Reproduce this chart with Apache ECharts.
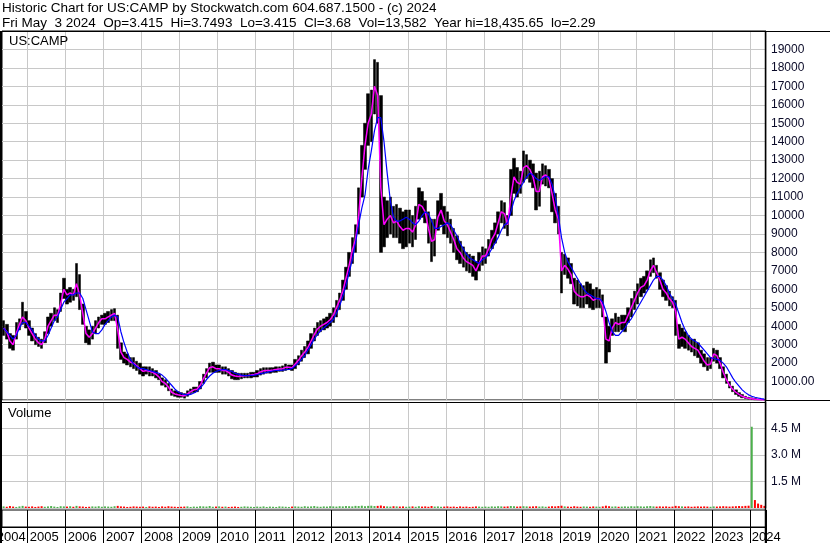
<!DOCTYPE html>
<html><head><meta charset="utf-8">
<script src="https://cdn.jsdelivr.net/npm/echarts@6/dist/echarts.min.js"></script>
<style>html,body{margin:0;padding:0;background:#fff}#c{width:830px;height:543px}</style>
</head><body><div id="c"></div>
<script>
const titleLine1 = 'Historic Chart for US:CAMP by Stockwatch.com 604.687.1500 - (c) 2024';
const titleLine2 = 'Fri May  3 2024  Op=3.415  Hi=3.7493  Lo=3.415  Cl=3.68  Vol=13,582  Year hi=18,435.65  lo=2.29';
const symbolLabel = 'US:CAMP';
const volumeLabel = 'Volume';

// monthly categories May 2004 .. May 2024
const months = [];
for (let y = 2004; y <= 2024; y++) {
  for (let m = 1; m <= 12; m++) {
    if (y === 2004 && m < 5) continue;
    if (y === 2024 && m > 5) break;
    months.push(y + '-' + (m < 10 ? '0' + m : m));
  }
}
const yearLabels = ['2004','2005','2006','2007','2008','2009','2010','2011','2012','2013','2014','2015','2016','2017','2018','2019','2020','2021','2022','2023','2024'];
const priceTickLabels = ['', '1000.00', '2000', '3000', '4000', '5000', '6000', '7000', '8000', '9000', '10000', '11000', '12000', '13000', '14000', '15000', '16000', '17000', '18000', '19000', ''];
const volumeTickLabels = ['', '1.5 M', '3.0 M', '4.5 M', ''];

// monthly high
const high = [
  4300,4100,3600,3500,4200,4400,5300,4800,
  4300,3900,3600,3400,3300,3700,4500,4700,5000,4900,5800,6600,
  6000,6100,6000,7400,6800,5200,4000,3800,4000,4300,4500,4600,
  4700,4800,4900,4950,4600,3100,2600,2500,2300,2300,2100,2000,
  1800,1800,1800,1700,1600,1400,1200,1100,900,600,500,450,
  400,350,500,600,700,700,1000,1400,1700,2000,2050,1900,
  1900,1800,1800,1700,1600,1500,1450,1450,1450,1450,1500,1500,
  1600,1700,1750,1750,1750,1750,1800,1800,1850,1950,1900,1900,
  2200,2400,2700,2900,3200,3600,3900,4200,4300,4400,4500,4700,
  5000,5400,5800,6500,7200,8000,8800,9500,11500,13800,15000,16600,
  16800,18450,18300,16500,11000,10800,11000,10500,10600,10400,10200,10300,
  10300,10000,10500,11500,11300,10800,10200,9800,9800,10800,11200,10500,
  10200,9800,9300,8900,8600,8300,8000,7900,7800,7500,8000,8300,
  8200,8700,9200,9600,10200,10800,10700,10000,12500,13100,12600,12400,
  13500,13300,13000,12800,12300,12400,12800,12700,12500,12000,11200,10500,
  8000,7900,7700,7400,6600,6500,6300,6200,6400,6300,6000,6100,
  6000,5700,4500,4000,4400,4700,4500,4600,4600,5000,5500,5900,
  6300,6600,6700,7000,7600,7700,7300,6900,6500,6200,5900,5600,
  5400,4100,3900,3700,3500,3300,3300,3100,2700,2500,2300,2300,
  2800,2700,2300,1800,1400,1000,750,550,400,300,200,150,
  120,80,50,30,10
];
// monthly low
const low = [
  3500,3300,2800,2700,3300,3800,4100,3900,
  3500,3200,3000,2900,2800,3100,3600,4000,4300,4200,4800,5500,
  5200,5300,5400,5600,4900,4100,3100,3000,3300,3600,3900,4100,
  4100,4200,4300,4300,2800,2200,2000,1900,1800,1700,1600,1400,
  1300,1400,1300,1300,1200,1100,800,700,500,250,200,150,
  150,100,200,350,400,450,600,900,1200,1500,1500,1500,
  1500,1400,1400,1300,1150,1100,1100,1150,1200,1200,1200,1250,
  1250,1350,1400,1450,1450,1500,1500,1550,1550,1600,1650,1600,
  1700,1900,2100,2300,2500,2800,3200,3500,3700,3800,3900,4000,
  4200,4500,4900,5400,6000,6700,7400,8000,9000,11000,12500,13800,
  14000,15500,15000,8000,8300,8800,9000,8800,8800,8500,8200,8300,
  8500,8300,8700,9800,9900,9600,8500,7500,7800,9200,9500,9000,
  8800,8500,8000,7600,7400,7200,7000,6900,6700,6500,7000,7300,
  7400,7800,8200,8500,9000,9600,9300,8900,10000,11200,11000,11200,
  11800,12000,11800,11500,10300,10500,11700,11600,11500,10200,9600,9000,
  5800,6800,6600,6300,5200,5100,5000,5000,5200,5000,4900,5000,
  5000,4500,2000,2600,3500,3700,3700,3800,3700,4200,4500,4900,
  5200,5600,5800,6000,6700,6900,6600,6000,5600,5400,5100,5000,
  3500,2800,2900,2800,2700,2600,2400,2300,2000,1800,1600,1700,
  2100,2000,1700,1200,900,650,450,300,200,120,80,50,
  30,10,5,3,3
];
// short moving average (magenta)
const maShort = [
  3900,3700,3200,3000,3600,4100,4500,4300,
  3900,3600,3300,3100,3000,3300,4000,4300,4600,4600,5200,6000,
  5700,5800,5700,6300,5700,4700,3600,3400,3600,3900,4200,4400,
  4400,4500,4600,4700,3800,2600,2300,2200,2050,2000,1850,1700,
  1550,1600,1550,1500,1400,1250,1000,900,700,420,330,280,
  250,230,330,450,550,580,800,1150,1450,1750,1800,1700,
  1700,1600,1600,1500,1350,1300,1280,1300,1320,1330,1350,1380,
  1420,1520,1580,1600,1600,1620,1650,1680,1700,1770,1780,1750,
  1950,2150,2400,2600,2850,3200,3550,3850,4000,4100,4200,4350,
  4600,5000,5400,5900,6600,7300,8100,8700,10000,12000,13800,15000,
  15500,17000,16500,11500,9500,9800,10000,9600,9700,9400,9200,9300,
  9300,9100,9500,10600,10500,10200,9300,8600,8700,9900,10300,9700,
  9500,9100,8700,8200,8000,7700,7500,7400,7300,7000,7400,7800,
  7800,8200,8700,9000,9600,10200,10100,9500,11000,12100,11800,11700,
  12600,12700,12500,12100,11300,11300,12100,12200,12000,11200,10300,9800,
  7000,7300,7100,6800,5900,5700,5600,5600,5700,5600,5400,5500,
  5500,5100,3300,3200,3900,4200,4100,4200,4200,4600,5000,5400,
  5800,6100,6200,6500,7000,7300,6900,6500,6000,5800,5500,5300,
  4800,3300,3400,3300,3100,2900,2800,2700,2400,2100,1900,1950,
  2500,2400,2000,1500,1100,800,580,420,300,200,140,100,
  70,40,25,15,5
];
// long moving average (blue)
const maLong = [
  3900,3700,3500,3300,3500,3900,4200,4200,
  4000,3800,3500,3300,3200,3200,3500,3900,4300,4500,4900,5300,
  5500,5700,5700,5800,5800,5500,4900,4300,3700,3600,3600,3800,
  4100,4300,4500,4600,4500,3700,3100,2600,2200,1950,1800,1700,
  1700,1650,1600,1550,1500,1450,1350,1200,1000,800,600,450,
  350,300,280,300,380,480,650,850,1100,1300,1450,1550,
  1600,1650,1650,1600,1550,1450,1400,1350,1320,1320,1330,1350,
  1380,1420,1460,1500,1540,1570,1600,1610,1620,1640,1660,1700,
  1850,2000,2200,2400,2700,3000,3300,3550,3750,3900,4050,4200,
  4350,4700,5100,5600,6200,6900,7600,8500,9500,10400,11100,12500,
  13500,14600,15300,15300,14000,12300,10800,9900,9700,9700,9800,9900,
  9800,9600,9500,9700,10000,10200,10100,9700,9300,9300,9400,9500,
  9600,9500,9200,8900,8500,8200,7900,7700,7600,7500,7400,7600,
  7700,7900,8200,8500,8800,9200,9500,9600,10200,10800,11200,11500,
  11800,12100,12300,12200,12000,11900,12000,12100,12100,11700,11000,10000,
  8800,8000,7500,7200,6900,6600,6300,6000,5800,5700,5600,5500,
  5500,5300,4800,4200,3700,3500,3500,3700,3900,4200,4400,4700,
  5000,5300,5600,5900,6200,6500,6700,6700,6500,6200,5800,5500,
  5200,4700,4200,3800,3500,3300,3200,3100,2900,2700,2500,2300,
  2250,2200,2150,2000,1800,1500,1200,950,750,550,400,280,
  200,150,110,70,50
];
// monthly volume
const volume = [
  90000,70000,110000,80000,60000,90000,120000,80000,
  70000,90000,60000,80000,100000,70000,90000,110000,80000,60000,100000,90000,
  80000,100000,70000,120000,90000,80000,60000,70000,90000,80000,100000,70000,
  90000,80000,70000,100000,120000,90000,80000,60000,70000,90000,80000,70000,
  80000,60000,90000,70000,80000,60000,90000,70000,100000,80000,70000,60000,
  70000,80000,90000,60000,80000,70000,100000,90000,80000,110000,70000,80000,
  90000,70000,80000,60000,70000,80000,60000,70000,90000,80000,70000,60000,
  80000,70000,90000,60000,80000,70000,60000,90000,80000,70000,60000,80000,
  90000,80000,70000,100000,80000,90000,110000,80000,70000,90000,80000,100000,
  90000,80000,100000,90000,110000,100000,90000,120000,110000,130000,100000,120000,
  130000,110000,120000,140000,100000,90000,80000,100000,90000,80000,90000,70000,
  80000,90000,70000,100000,80000,90000,70000,110000,80000,90000,70000,80000,
  90000,70000,80000,60000,90000,70000,80000,60000,70000,90000,80000,70000,
  80000,70000,90000,80000,100000,90000,80000,90000,110000,100000,80000,90000,
  100000,90000,80000,90000,100000,80000,90000,70000,80000,100000,90000,110000,
  130000,90000,80000,70000,100000,80000,70000,90000,80000,70000,90000,80000,
  70000,90000,130000,100000,80000,90000,70000,80000,90000,80000,100000,90000,
  100000,90000,80000,100000,110000,90000,80000,90000,80000,90000,70000,80000,
  120000,100000,90000,80000,90000,70000,80000,90000,80000,90000,80000,70000,
  90000,80000,90000,100000,90000,80000,90000,100000,110000,100000,120000,130000,
  4600000,450000,250000,180000,120000
];

const green = '#4cb04c', red = '#ff0000';
const volData = volume.map((v, i) => ({
  value: v,
  itemStyle: { color: (i === 0 || maShort[i] >= maShort[i - 1] || v > 1000000) ? green : red }
}));

const FONT = "'Liberation Sans', Arial, sans-serif";
const isJan = (i, v) => String(v).slice(5) === '01';
const showYearLabel = (i, v) => String(v).slice(5) === '12' || i === months.length - 1;

const chart = echarts.init(document.getElementById('c'), null, { renderer: 'canvas' });
chart.setOption({
  animation: false,
  backgroundColor: '#ffffff',
  textStyle: { fontFamily: FONT },
  title: [
    { text: titleLine1 + '\n' + titleLine2, left: 2, top: 1, padding: 0,
      textStyle: { fontFamily: FONT, fontSize: 13.5, fontWeight: 'normal', color: '#000', lineHeight: 15 } },
    { text: symbolLabel, left: 9, top: 34, padding: 0,
      textStyle: { fontFamily: FONT, fontSize: 13, fontWeight: 'normal', color: '#000', lineHeight: 15 } },
    { text: volumeLabel, left: 8, top: 406, padding: 0,
      textStyle: { fontFamily: FONT, fontSize: 13, fontWeight: 'normal', color: '#000', lineHeight: 15 } }
  ],
  grid: [
    { left: 2, top: 31, width: 764, height: 369, show: true, borderColor: '#000', borderWidth: 1, backgroundColor: 'transparent', outerBoundsMode: 'none', containLabel: false },
    { left: 2, top: 402, width: 764, height: 106, show: false, outerBoundsMode: 'none', containLabel: false },
    { left: 2, top: 510, width: 764, height: 17, show: true, borderColor: '#000', borderWidth: 1, outerBoundsMode: 'none', containLabel: false }
  ],
  xAxis: [
    { type: 'category', gridIndex: 0, data: months, boundaryGap: true,
      axisLine: { show: false }, axisTick: { show: false }, axisLabel: { show: false },
      splitLine: { show: true, interval: isJan, lineStyle: { color: '#c8c8c8', width: 1 } } },
    { type: 'category', gridIndex: 1, data: months, boundaryGap: true,
      axisLine: { show: false }, axisTick: { show: false }, axisLabel: { show: false },
      splitLine: { show: true, interval: isJan, lineStyle: { color: '#c8c8c8', width: 1 } } },
    { type: 'category', gridIndex: 2, data: months, boundaryGap: true, position: 'bottom',
      axisLine: { show: true, lineStyle: { color: '#000', width: 1 } },
      axisTick: { show: true, interval: isJan, length: 16, lineStyle: { color: '#000', width: 1 } },
      splitLine: { show: true, interval: isJan, lineStyle: { color: '#000', width: 1 } },
      axisLabel: {
        show: true, interval: showYearLabel, align: 'right', margin: 2,
        fontFamily: FONT, fontSize: 13, color: '#000',
        formatter: function (value) {
          const y = yearLabels[Number(String(value).slice(0, 4)) - 2004];
          if (value === months[months.length - 1]) return '{l|' + y + '}';
          if (y === yearLabels[0]) return '{f|' + y + '}';
          return '{m|' + y + '}';
        },
        rich: {
          f: { width: 34, align: 'right', fontFamily: FONT, fontSize: 13, color: '#000', lineHeight: 16 },
          m: { width: 34, align: 'left', fontFamily: FONT, fontSize: 13, color: '#000', lineHeight: 16 },
          l: { width: 12.7, align: 'left', fontFamily: FONT, fontSize: 13, color: '#000', lineHeight: 16 }
        }
      } }
  ],
  yAxis: [
    { type: 'value', gridIndex: 0, position: 'right', min: 0, max: 20000, interval: 1000,
      axisLine: { show: false }, axisTick: { show: false },
      axisLabel: { show: true, margin: 5, align: 'left', fontFamily: FONT, fontSize: 12, color: '#0a0a28',
        showMaxLabel: false, showMinLabel: false,
        formatter: v => priceTickLabels[Math.round(v / 1000)] || '' },
      splitLine: { show: true, lineStyle: { color: '#c8c8c8', width: 1 } } },
    { type: 'value', gridIndex: 1, position: 'right', min: 0, max: 6000000, interval: 1500000,
      axisLine: { show: false }, axisTick: { show: false },
      axisLabel: { show: true, margin: 5, align: 'left', fontFamily: FONT, fontSize: 12, color: '#0a0a28',
        formatter: v => volumeTickLabels[Math.round(v / 1500000)] || '' },
      splitLine: { show: true, lineStyle: { color: '#c8c8c8', width: 1 } } },
    { type: 'value', gridIndex: 2, show: false, min: 0, max: 1,
      splitLine: { show: false } }
  ],
  series: [
    { type: 'candlestick', name: 'Price', xAxisIndex: 0, yAxisIndex: 0,
      data: high.map((h, i) => [low[i], h, low[i], h]),
      barWidth: 3,
      itemStyle: { color: '#000', color0: '#000', borderColor: '#000', borderColor0: '#000', borderWidth: 0.5 },
      z: 2 },
    { type: 'line', name: 'MA short', xAxisIndex: 0, yAxisIndex: 0, data: maShort,
      symbol: 'none', lineStyle: { color: '#ff00ff', width: 1.5 }, z: 3 },
    { type: 'line', name: 'MA long', xAxisIndex: 0, yAxisIndex: 0, data: maLong,
      symbol: 'none', lineStyle: { color: '#0000ff', width: 1.2 }, z: 4 },
    { type: 'bar', name: 'Volume', xAxisIndex: 1, yAxisIndex: 1, data: volData,
      barWidth: 2, z: 2 }
  ],
  graphic: [
    { type: 'rect', left: 0, top: 31, shape: { x: 0, y: 0, width: 2, height: 512 }, style: { fill: '#000' }, z: 100 },
    { type: 'line', shape: { x1: 765.5, y1: 31, x2: 765.5, y2: 543 }, style: { stroke: '#000', lineWidth: 1.5 }, z: 100 },
    { type: 'line', shape: { x1: 0, y1: 31.5, x2: 830, y2: 31.5 }, style: { stroke: '#000', lineWidth: 1 }, z: 100 },
    { type: 'line', shape: { x1: 766, y1: 400.5, x2: 830, y2: 400.5 }, style: { stroke: '#000', lineWidth: 1 }, z: 100 },
    { type: 'line', shape: { x1: 2, y1: 402.5, x2: 766, y2: 402.5 }, style: { stroke: '#000', lineWidth: 1 }, z: 100 }
  ]
});
</script></body></html>
